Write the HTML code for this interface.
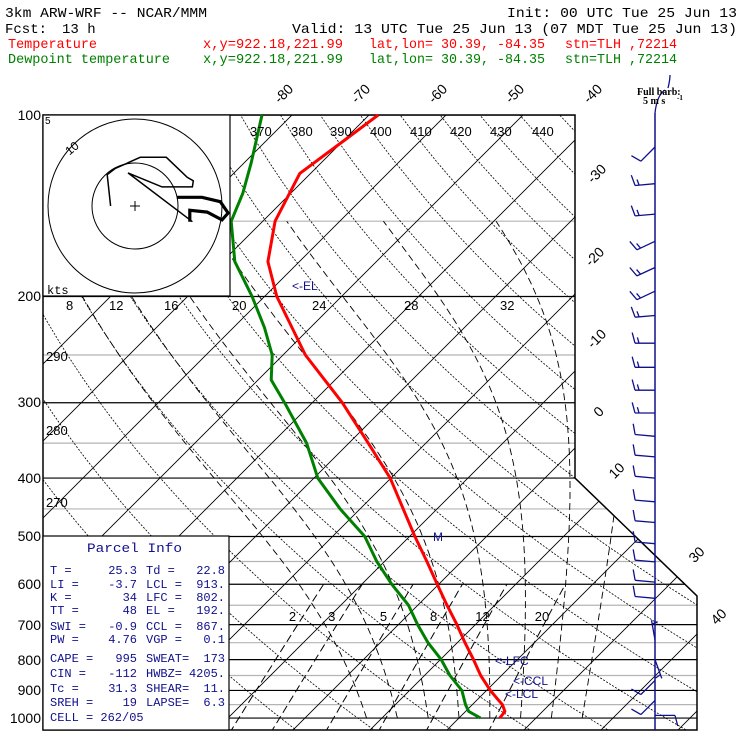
<!DOCTYPE html>
<html><head><meta charset="utf-8"><style>
html,body{margin:0;padding:0;background:#fff;}
svg{display:block;font-family:"Liberation Mono",monospace;}
</style></head><body>
<svg id="c" width="740" height="740" viewBox="0 0 740 740" xmlns="http://www.w3.org/2000/svg">
<defs><clipPath id="plotclip"><path d="M43,115 L575,115 L575,478 L697,596 L697,730 L43,730 Z"/></clipPath></defs>
<rect width="740" height="740" fill="#fff"/>
<g font-size="14">
<text x="5" y="17" textLength="202" lengthAdjust="spacingAndGlyphs">3km ARW-WRF -- NCAR/MMM</text>
<text x="507" y="17" textLength="230" lengthAdjust="spacingAndGlyphs">Init: 00 UTC Tue 25 Jun 13</text>
<text x="5" y="33">Fcst:</text>
<text x="62" y="33">13 h</text>
<text x="292" y="33" textLength="445" lengthAdjust="spacingAndGlyphs">Valid: 13 UTC Tue 25 Jun 13 (07 MDT Tue 25 Jun 13)</text>
<g fill="#ff0000">
<text x="8" y="48" textLength="89" lengthAdjust="spacingAndGlyphs">Temperature</text>
<text x="203" y="48" textLength="140" lengthAdjust="spacingAndGlyphs">x,y=922.18,221.99</text>
<text x="369" y="48" textLength="176" lengthAdjust="spacingAndGlyphs">lat,lon= 30.39, -84.35</text>
<text x="565" y="48" textLength="112" lengthAdjust="spacingAndGlyphs">stn=TLH ,72214</text></g>
<g fill="#008000">
<text x="8" y="63" textLength="162" lengthAdjust="spacingAndGlyphs">Dewpoint temperature</text>
<text x="203" y="63" textLength="140" lengthAdjust="spacingAndGlyphs">x,y=922.18,221.99</text>
<text x="369" y="63" textLength="176" lengthAdjust="spacingAndGlyphs">lat,lon= 30.39, -84.35</text>
<text x="565" y="63" textLength="112" lengthAdjust="spacingAndGlyphs">stn=TLH ,72214</text></g>
</g>
<g id="grid" clip-path="url(#plotclip)"></g>
<g id="over"></g>
<script>
// ---- data ----
const pLevels=[1000,975,950,925,900,850,800,750,700,650,600,550,500,450,400,350,300,250,200,175,150,125,110,100];
const tempC=[25.3,25.1,23.9,22.2,20.5,17.3,14.3,11.0,7.6,3.8,-0.2,-4.5,-9.3,-14.4,-20.1,-27.5,-36.1,-47.1,-58.4,-64.1,-68.4,-71.4,-69.9,-68.8];
const tdLevels=[1000,975,950,900,850,800,750,700,650,600,550,500,450,400,350,300,275,250,225,200,175,150,135,120,100];
const dewC=[22.8,20.4,19.1,16.8,13.3,10.1,6.2,2.5,-1.2,-6.1,-11.0,-15.8,-22.6,-29.5,-35.5,-43.6,-48.3,-51.4,-56.0,-61.6,-68.4,-74.1,-76.2,-79.1,-83.9];
const windP=[113,130,146,162,179,196,215,239,262,286,312,341,369,400,438,474,514,551,595,633,742,800,866,935,990];
const windDir=[225,265,265,245,245,245,265,270,270,270,270,275,275,275,275,275,275,275,275,275,350,160,225,225,90];
const windSpd=[5,7.5,7.5,7.5,7.5,7.5,7.5,7.5,7.5,7.5,7.5,5,5,5,5,5,5,5,5,5,2.5,2.5,5,5,5];
const isoT=[-120,-110,-100,-90,-80,-70,-60,-50,-40,-30,-20,-10,0,10,20,30,40,50];
const thetaK=[250,260,270,280,290,300,310,320,330,340,350,360,370,380,390,400,410,420,430,440,450,460];
const thetaW=[8,12,16,20,24,28,32,36];
const mixW=[2,3,5,8,12,20];
const pLines=[100,200,300,400,500,600,700,800,900,1000];
const pHalf=[150,250,350,450,550,650,750,850,950];
const hodoU1=[-2.8,-3.2,-2.3,0.6,3.6,6.0,6.7,6.6,3.1,-0.8,6.6];
const hodoV1=[0,3.6,4.3,5.6,5.6,3.3,2.9,2.2,2.2,3.8,-1.8];
const hodoU2=[4.8,7.7,9.8,10.7,10.0,8.3,6.3,6.3];
const hodoV2=[1.0,1.0,0.5,-0.8,-1.6,-0.7,-0.5,-1.8];
const parcelL1=['T  =','LI =','K  =','TT =','SWI =','PW =','CAPE =','CIN =','Tc =','SREH ='];
const parcelV1=['25.3','-3.7','34','48','-0.9','4.76','995','-112','31.3','19'];
const parcelL2=['Td =','LCL =','LFC =','EL  =','CCL =','VGP =','SWEAT=','HWBZ=','SHEAR=','LAPSE='];
const parcelV2=['22.8','913.','802.','192.','867.','0.1','173','4205.','11.','6.3'];
const parcelY=[574,588,601,614,630,643,662,677,692,706];
// ---- axes ----
const NS='http://www.w3.org/2000/svg';
function yP(p){return 115+261.9*Math.log(p/100);}
function xT(T,p){return 305+7.7*T+(718-yP(p));}
function xTy(T,y){return 305+7.7*T+(718-y);}
function mk(tag,attrs,parent){const e=document.createElementNS(NS,tag);for(const k in attrs)e.setAttribute(k,attrs[k]);parent.appendChild(e);return e;}
const grid=document.getElementById('grid'),over=document.getElementById('over');
function pathStr(pts){return pts.map((q,i)=>(i?'L':'M')+q[0].toFixed(1)+','+q[1].toFixed(1)).join(' ');}
pHalf.forEach(p=>{const l=mk('line',{x1:43,x2:700,y1:yP(p),y2:yP(p),stroke:'#b4b4b4','stroke-width':1.2},grid);

});
pLines.forEach(p=>{const l=mk('line',{x1:43,x2:700,y1:yP(p),y2:yP(p),stroke:'#000','stroke-width':1.2},grid);

});
isoT.forEach(T=>{const l=mk('line',{x1:xTy(T,735),y1:735,x2:xTy(T,110),y2:110,stroke:'#000','stroke-width':0.9},grid);

});
thetaK.forEach(th=>{const pts=[];for(let p=1060;p>=95;p-=10){const T=th*Math.pow(p/1000,0.2857)-273.15;pts.push([xT(T,p),yP(p)]);}
const e=mk('path',{d:pathStr(pts),fill:'none',stroke:'#000','stroke-width':0.8,'stroke-dasharray':'2,1.5'},grid);

});
function es(T){return 6.112*Math.exp(17.67*T/(T+243.5));}
thetaW.forEach(tw=>{let T=tw+273.15;const pts=[];for(let p=1000;p>=150;p-=5){pts.push([xT(T-273.15,p),yP(p)]);
const rs=0.622*es(T-273.15)/(p-es(T-273.15));const dTdp=(287*T+2.5e6*rs)/(p*(1004+2.5e6*2.5e6*rs*0.622/(287*T*T)));T-=dTdp*5;}
const e=mk('path',{d:pathStr(pts),fill:'none',stroke:'#000','stroke-width':0.9,'stroke-dasharray':'7,4'},grid);

});
function tdW(w,p){const e=w*p/(622+w);const L=Math.log(e/6.112);return 243.5*L/(17.67-L);}
mixW.forEach(w=>{const pts=[];for(let p=1060;p>=600;p-=20)pts.push([xT(tdW(w,p),p),yP(p)]);
const e=mk('path',{d:pathStr(pts),fill:'none',stroke:'#000','stroke-width':1,'stroke-dasharray':'8,4'},grid);


const t=mk('text',{x:xT(tdW(w,695),695)-10,y:621,'font-size':13,'font-family':'Liberation Sans, sans-serif'},over);t.textContent=w;

});
const b=mk('path',{d:'M43,115 L575,115 L575,478 L697,596 L697,730 L43,730 Z',fill:'none',stroke:'#000','stroke-width':1.5},over);


function prof(ps,ts,col,name){const pts=ps.map((p,i)=>[xT(ts[i],p),yP(p)]);
const e=mk('path',{d:pathStr(pts),fill:'none',stroke:col,'stroke-width':3,'stroke-linejoin':'round'},over);

}
prof(pLevels,tempC,'#ff0000','temperature-line');
prof(tdLevels,dewC,'#008000','dewpoint-line');
const hb=mk('rect',{x:43,y:115,width:187,height:181,fill:'#fff',stroke:'#000','stroke-width':1.2},over);


const HC=[135,206],HS=8.7;
[43,87].forEach(r=>{const c=mk('circle',{cx:HC[0],cy:HC[1],r:r,fill:'none',stroke:'#000','stroke-width':1},over);

});
mk('path',{d:'M130,206 H140 M135,201 V211',stroke:'#000','stroke-width':1},over);
function hodo(us,vs,w,name){const pts=us.map((u,i)=>[HC[0]+u*HS,HC[1]-vs[i]*HS]);
const e=mk('path',{d:pathStr(pts),fill:'none',stroke:'#000','stroke-width':w},over);

}
hodo(hodoU1,hodoV1,1.5,'hodograph-upper');
hodo(hodoU2,hodoV2,3.2,'hodograph-lower');
const staff=mk('line',{x1:655,y1:113,x2:655,y2:730,stroke:'#10108c','stroke-width':1.5},over);


mk('path',{d:'M655,113 Q657,95 665,90 M668,88 Q670,80 670,75',fill:'none',stroke:'#10108c','stroke-width':1.3},over);
windP.forEach((p,i)=>{const d=windDir[i]*Math.PI/180,y=yP(p),ux=Math.sin(d),uy=-Math.cos(d),L=20;
const tx=655+ux*L,ty=y+uy*L;const a=75*Math.PI/180;const bx=ux*Math.cos(a)-uy*Math.sin(a),by=ux*Math.sin(a)+uy*Math.cos(a);
let s=windSpd[i],pos=0,dd='M655,'+y.toFixed(1)+' L'+tx.toFixed(1)+','+ty.toFixed(1);
while(s>=4.9){const px=tx-ux*pos,py=ty-uy*pos;dd+=' M'+px.toFixed(1)+','+py.toFixed(1)+' l'+(bx*11).toFixed(1)+','+(by*11).toFixed(1);s-=5;pos+=4;}
if(s>=2.4){if(pos===0)pos=4;const px=tx-ux*pos,py=ty-uy*pos;dd+=' M'+px.toFixed(1)+','+py.toFixed(1)+' l'+(bx*6).toFixed(1)+','+(by*6).toFixed(1);}
const e=mk('path',{d:dd,fill:'none',stroke:'#10108c','stroke-width':1.3},over);

});
</script>
<g font-family="Liberation Sans, sans-serif" font-size="12">
<text x="45" y="124" font-size="10">5</text>
<text x="66" y="154" transform="rotate(-40 70 150)">10</text>
<text x="47" y="294" font-family="Liberation Mono, monospace" font-size="12">kts</text>
</g>
<g font-family="Liberation Sans, sans-serif" font-size="14" text-anchor="end">
<text x="41" y="120">100</text><text x="41" y="301">200</text><text x="41" y="407">300</text><text x="41" y="483">400</text><text x="41" y="541">500</text><text x="41" y="589">600</text><text x="41" y="630">700</text><text x="41" y="665">800</text><text x="41" y="695">900</text><text x="41" y="723">1000</text>
</g>
<g font-family="Liberation Sans, sans-serif" font-size="14" text-anchor="middle">
<text transform="translate(287,97) rotate(-45)">-80</text><text transform="translate(364,97) rotate(-45)">-70</text><text transform="translate(441,97) rotate(-45)">-60</text><text transform="translate(518,97) rotate(-45)">-50</text><text transform="translate(596,97) rotate(-45)">-40</text>
<text transform="translate(600,177) rotate(-45)">-30</text><text transform="translate(598,260) rotate(-45)">-20</text><text transform="translate(600,342) rotate(-45)">-10</text><text transform="translate(602,415) rotate(-45)">0</text><text transform="translate(620,474) rotate(-45)">10</text><text transform="translate(700,558) rotate(-45)">30</text><text transform="translate(722,620) rotate(-45)">40</text>
</g>
<g font-family="Liberation Sans, sans-serif" font-size="13">
<text x="250" y="136">370</text><text x="291" y="136">380</text><text x="330" y="136">390</text><text x="370" y="136">400</text><text x="410" y="136">410</text><text x="450" y="136">420</text><text x="490" y="136">430</text><text x="532" y="136">440</text>
<text x="46" y="361">290</text><text x="46" y="435">280</text><text x="46" y="507">270</text>
<text x="66" y="310">8</text><text x="109" y="310">12</text><text x="164" y="310">16</text><text x="232" y="310">20</text><text x="312" y="310">24</text><text x="404" y="310">28</text><text x="500" y="310">32</text>
</g>
<g font-family="Liberation Serif, serif" font-size="10" font-weight="bold">
<text x="637" y="95">Full barb:</text><text x="643" y="104">5 m s</text><text x="677" y="100" font-size="7">-1</text>
</g>
<g fill="#10108c" font-family="Liberation Sans, sans-serif" font-size="12">
<text x="292" y="290">&lt;-EL</text><text x="433" y="541">M</text><text x="495" y="665">&lt;-LFC</text><text x="513" y="685">&lt;-CCL</text><text x="505" y="698">&lt;-LCL</text>
</g>
<rect x="43" y="536" width="186" height="194" fill="#fff" stroke="#000" stroke-width="1.2"/>
<g id="parcel" fill="#10108c" font-size="12">
<text x="87" y="552" font-size="13" textLength="95" lengthAdjust="spacingAndGlyphs">Parcel Info</text>
<text x="50" y="721">CELL = 262/05</text>
</g>
<script>
(function(){const g=document.getElementById('parcel');
parcelY.forEach((y,i)=>{
const a=mk('text',{x:50,y:y},g);a.textContent=parcelL1[i];


const b=mk('text',{x:137,y:y,'text-anchor':'end'},g);b.textContent=parcelV1[i];


const c=mk('text',{x:146,y:y},g);c.textContent=parcelL2[i];


const d=mk('text',{x:225,y:y,'text-anchor':'end'},g);d.textContent=parcelV2[i];

});})();
</script>
</svg>
</body></html>
